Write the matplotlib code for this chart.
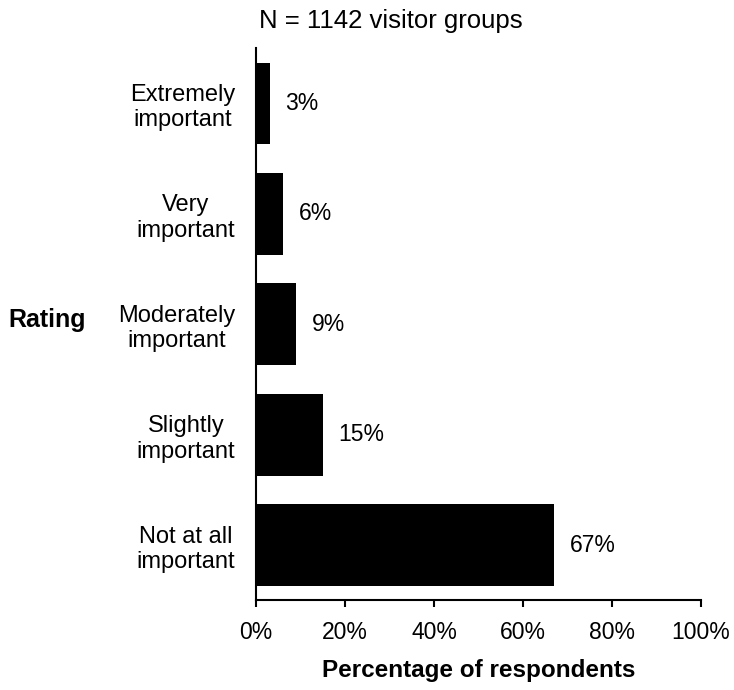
import matplotlib
matplotlib.use("Agg")
import matplotlib.pyplot as plt
from matplotlib.ticker import FuncFormatter

categories = ["Extremely\nimportant", "Very\nimportant", "Moderately\nimportant",
              "Slightly\nimportant", "Not at all\nimportant"]
values = [3, 6, 9, 15, 67]
labels = ["3%", "6%", "9%", "15%", "67%"]
xticks = [0, 20, 40, 60, 80, 100]

plt.rcParams['font.family'] = ['Liberation Sans', 'DejaVu Sans']

fig = plt.figure(figsize=(7.34, 6.90), dpi=100)
ax = fig.add_axes([0.349, 0.130, 0.606, 0.800])

ypos = list(range(len(categories)))
ax.barh(ypos, values, height=0.74, color="black")
for y, v, lab in zip(ypos, values, labels):
    ax.text(v + 3.5, y, lab, va="center", ha="left", fontsize=16.5)

ax.set_ylim(len(categories) - 0.5, -0.5)
ax.set_xlim(0, 100)
ax.set_xticks(xticks)
ax.xaxis.set_major_formatter(FuncFormatter(lambda x, p: f"{x:.0f}%"))
ax.set_yticks(ypos)
ax.set_yticklabels(categories, multialignment="center", ha="right", linespacing=1.2)
ax.tick_params(axis="y", length=0, pad=15, labelsize=17)
ax.tick_params(axis="x", length=5, width=1.5, labelsize=16.5, pad=10)
for s in ["top", "right"]:
    ax.spines[s].set_visible(False)
for s in ["left", "bottom"]:
    ax.spines[s].set_linewidth(1.5)

ax.set_xlabel("Percentage of respondents", fontsize=17.5, fontweight="bold", labelpad=11)
fig.text(0.011, 0.536, "Rating", fontsize=18, fontweight="bold", va="center", ha="left")
fig.text(0.533, 0.970, "N = 1142 visitor groups", fontsize=18.5, va="center", ha="center")

fig.savefig("out.png", dpi=100)
